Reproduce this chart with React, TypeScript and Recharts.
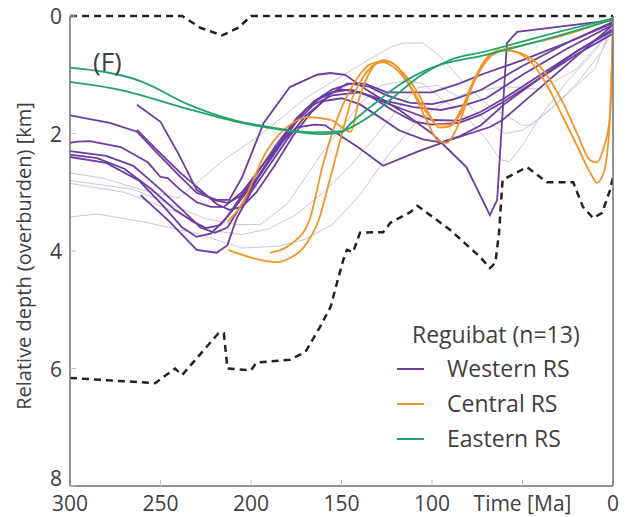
import React from 'react';
import { LineChart, Line, XAxis, YAxis } from 'recharts';

const xTicks = [300, 250, 200, 150, 100, 50, 0];
const topTicks = [250, 200, 150, 100, 50];
const yTicks = [0, 2, 4, 6, 8];
const timeLabel = 'Time [Ma]';
const yLabel = 'Relative depth (overburden) [km]';
const panelLabel = '(F)';
const legendTitle = 'Reguibat (n=13)';
const groups = [
  { name: 'Western RS', color: '#6b3d9f' },
  { name: 'Central RS', color: '#f39428' },
  { name: 'Eastern RS', color: '#22a36b' },
];

// [time Ma, relative depth km]
const upperBound = [[300, 0], [238, 0], [228, 0.2], [216, 0.33], [207, 0.2], [200, 0], [0, 0]];
const lowerBound = [
  [300, 6.16], [253, 6.25], [242, 6.0], [238, 6.11], [218, 5.4], [215, 5.4], [213, 6.0], [200, 6.03],
  [197, 5.9], [178.5, 5.85], [170, 5.72], [162, 5.3], [156, 4.95], [152.5, 4.54], [149, 4.15], [147, 3.98],
  [143.6, 4.02], [139.8, 3.69], [132.6, 3.68], [127, 3.68], [123, 3.52], [112, 3.34], [108, 3.23], [90, 3.64],
  [73.5, 4.1], [68, 4.29], [65, 4.2], [63, 3.7], [61, 2.79], [47.5, 2.57], [36.5, 2.83], [22, 2.83],
  [16.6, 3.25], [11, 3.44], [6, 3.35], [1.6, 2.96], [0, 2.74],
];

const gray1 = [
  [300, 2.67], [282, 2.76], [260, 2.96], [240, 3.1], [236, 3.0], [215, 2.45], [195, 2.03], [169, 1.38],
  [138, 0.8], [123, 0.53], [116, 0.46], [105, 0.46], [95, 0.7], [85, 1.05], [70, 1.5], [50, 1.86],
  [45, 1.86], [35, 1.6], [20, 1.18], [10, 0.9], [0, 0.1],
];
const gray2 = [
  [300, 2.8], [265, 2.95], [245, 3.2], [225, 3.45], [208, 3.55], [195, 3.55], [180, 3.2], [170, 2.75],
  [160, 2.3], [150, 1.9], [140, 1.5], [128, 1.18], [115, 1.1], [105, 1.15], [95, 1.4], [80, 1.75],
  [70, 2.1], [62, 2.45], [57, 2.48], [50, 2.2], [40, 1.7], [25, 1.1], [10, 0.6], [0, 0.15],
];
const gray3 = [
  [300, 2.85], [270, 3.0], [240, 3.35], [222, 3.65], [205, 3.72], [190, 3.62], [175, 3.38], [160, 3.0],
  [145, 2.55], [130, 2.0], [118, 1.55], [108, 1.22], [97, 1.18], [85, 1.38], [70, 1.78], [60, 2.0],
  [50, 1.95], [35, 1.6], [20, 1.15], [5, 0.55], [0, 0.2],
];
const gray4 = [
  [300, 3.42], [285, 3.37], [260, 3.5], [230, 3.7], [205, 3.95], [185, 3.92], [170, 3.8], [155, 3.55],
  [140, 3.05], [125, 2.4], [110, 1.85], [95, 1.5], [80, 1.3], [60, 1.2], [40, 1.25], [20, 0.9], [0, 0.2],
];

const westA = [
  [300, 1.69], [278, 1.82], [263, 1.97], [252, 2.33], [239, 2.74], [230, 3.01], [219, 3.13], [212, 3.13],
  [205, 2.75], [193, 1.82], [178.5, 1.21], [163.5, 1.0], [156, 0.97], [148, 1.0], [136, 1.26], [118, 1.6],
  [100, 2.0], [81, 2.57], [68, 3.39], [64, 3.13], [58.6, 0.46], [53, 0.27], [0, 0.07],
];
const westB = [
  [300, 2.16], [296, 2.14], [289, 2.13], [272, 2.23], [257, 2.49], [250, 2.74], [246, 2.76], [239, 2.96],
  [230, 3.17], [222, 3.25], [215, 3.25], [205, 3.0], [195, 2.6], [185, 2.2], [175, 1.9], [165, 1.85],
  [159, 1.86], [151, 2.03], [141, 2.23], [127, 2.55], [108, 2.31], [90, 2.11], [68, 1.89], [61, 1.77], [0, 0.15],
];
const westC = [
  [300, 2.3], [280, 2.38], [265, 2.55], [250, 2.95], [238, 3.3], [228, 3.6], [220, 3.69], [213, 3.6],
  [205, 3.2], [195, 2.7], [185, 2.2], [175, 1.75], [165, 1.45], [155, 1.3], [145, 1.25], [135, 1.35],
  [122, 1.6], [110, 1.8], [100, 1.85], [85, 1.82], [73, 1.68], [60, 1.45], [40, 1.05], [20, 0.65], [0, 0.3],
];
const westD = [
  [300, 2.36], [285, 2.42], [270, 2.6], [255, 2.95], [242, 3.3], [232, 3.5], [225, 3.61], [217, 3.56],
  [210, 3.3], [200, 2.9], [190, 2.45], [180, 2.0], [170, 1.6], [160, 1.35], [150, 1.25], [140, 1.3],
  [128, 1.45], [115, 1.6], [100, 1.77], [85, 1.78], [73, 1.63], [60, 1.4], [40, 1.0], [20, 0.6], [0, 0.25],
];
const westE = [
  [263, 1.51], [250, 1.8], [240, 2.35], [230, 2.96], [221, 3.13], [213, 3.18], [205, 3.05], [195, 2.7],
  [185, 2.25], [175, 1.8], [165, 1.5], [155, 1.35], [140, 1.3], [125, 1.45], [110, 1.55], [95, 1.6],
  [80, 1.5], [70, 1.4], [50, 1.0], [25, 0.55], [0, 0.15],
];
const westF = [
  [263, 1.94], [252, 2.28], [239, 2.67], [226, 3.01], [219, 3.2], [212, 3.3], [205, 3.25], [197, 3.0],
  [187, 2.55], [177, 2.05], [167, 1.65], [157, 1.35], [147, 1.15], [137, 1.15], [125, 1.3], [112, 1.3],
  [100, 1.3], [85, 1.15], [73, 1.0], [50, 0.75], [25, 0.45], [0, 0.12],
];
const westG = [
  [261, 3.05], [245, 3.5], [230, 3.98], [219, 4.03], [213, 3.9], [208, 3.45], [200, 3.0], [190, 2.55],
  [180, 2.1], [170, 1.7], [160, 1.45], [150, 1.4], [140, 1.5], [130, 1.7], [118, 1.95], [105, 2.1],
  [95, 2.15], [85, 2.05], [73, 1.86], [60, 1.5], [40, 1.05], [20, 0.6], [0, 0.22],
];
const westH = [
  [300, 2.4], [280, 2.5], [262, 2.8], [248, 3.25], [238, 3.6], [230, 3.76], [222, 3.7], [214, 3.45],
  [205, 3.05], [195, 2.6], [185, 2.15], [175, 1.75], [165, 1.45], [155, 1.25], [145, 1.15], [135, 1.2],
  [125, 1.35], [112, 1.48], [100, 1.5], [88, 1.42], [73, 1.26], [50, 0.85], [25, 0.45], [0, 0.1],
];

const centralA = [
  [213, 3.5], [206, 3.25], [191, 2.28], [177, 1.82], [169, 1.72], [156, 1.77], [145, 1.97], [140, 1.38],
  [132.6, 0.87], [127, 0.75], [119, 0.87], [112, 1.21], [103, 1.77], [97, 2.11], [92, 2.16], [86, 1.89],
  [77, 1.14], [68, 0.7], [61, 0.58], [51, 0.63], [40, 0.87], [27.6, 1.48], [20, 1.99], [12.7, 2.45],
  [9, 2.49], [5.5, 2.28], [1.7, 1.72], [0, 0.02],
];
const centralB = [
  [212.7, 3.98], [195, 4.15], [185.6, 4.19], [178.5, 4.12], [169, 3.86], [162, 3.42], [156.5, 2.79],
  [151, 2.15], [145, 1.48], [138, 1.04], [130, 0.8], [124, 0.78], [116, 0.97], [108, 1.3], [101, 1.7],
  [96, 1.9], [90, 1.88], [85, 1.7], [77, 1.1], [70, 0.72], [62, 0.58], [55, 0.6], [45, 0.8], [37, 1.15],
  [28, 1.7], [20, 2.2], [12, 2.7], [9, 2.84], [5, 2.65], [2, 1.9], [0, 0.15],
];
const centralC = [
  [189.5, 4.03], [177, 3.86], [168, 3.5], [160, 2.5], [153, 1.8], [146, 1.3], [140, 1.0], [134, 0.82],
  [128, 0.78], [120, 0.9], [112, 1.2], [104, 1.6], [97, 1.85], [90, 1.85], [84, 1.6], [77, 1.1],
  [70, 0.75], [63, 0.6], [50, 0.5], [30, 0.35], [0, 0.05],
];

const eastA = [
  [300, 0.88], [260, 1.12], [235, 1.5], [210, 1.77], [188, 1.9], [165, 1.98], [150, 1.96], [145, 1.9],
  [135, 1.72], [120, 1.35], [108, 1.05], [90, 0.75], [70, 0.6], [40, 0.35], [0, 0.04],
];
const eastB = [
  [300, 1.12], [272, 1.26], [235, 1.58], [205, 1.82], [178, 1.96], [160, 2.01], [150, 1.98], [145, 1.83],
  [130, 1.45], [117, 1.15], [100, 0.88], [70, 0.66], [40, 0.42], [0, 0.06],
];

const grays = [gray1, gray2, gray3, gray4];
const western = [westA, westB, westC, westD, westE, westF, westG, westH];
const central = [centralA, centralB, centralC];
const eastern = [eastA, eastB];

const toPts = (arr: number[][]) => arr.map(([t, d]) => ({ t, d }));

const FONT = '"Open Sans", "Noto Sans", sans-serif';
const TEXT = '#404040';
const AXIS = '#6e6e6e';
const TICK = '#c4c4c4';

const YTick = (props: any) => {
  const { x, y, payload } = props;
  const shift = payload.value === 8 ? -8 : 0;
  return (
    <text x={x} y={y + shift} textAnchor="end" dominantBaseline="central" fontSize={21} fill={TEXT}
      fontFamily={FONT}>
      {payload.value}
    </text>
  );
};

export default function App() {
  return (
    <div style={{ position: 'relative', width: 635, height: 517, margin: '-8px 0 0 -8px', fontFamily: FONT }}>
      <LineChart width={635} height={517} margin={{ top: 14, right: 20, bottom: 0, left: 0 }}>
        <XAxis
          dataKey="t"
          type="number"
          domain={[0, 300]}
          reversed
          ticks={xTicks}
          allowDataOverflow
          height={31}
          tickSize={-6}
          tickMargin={16}
          stroke={AXIS}
          strokeWidth={1.5}
          tickLine={{ stroke: TICK, strokeWidth: 1 }}
          tick={{ fontSize: 21, fill: TEXT, fontFamily: FONT }}
          tickFormatter={(v: number) => (v === 50 ? timeLabel : String(v))}
          interval={0}
        />
        <XAxis
          xAxisId="top"
          orientation="top"
          dataKey="t"
          type="number"
          domain={[0, 300]}
          reversed
          ticks={topTicks}
          height={2}
          tickSize={-6}
          tick={false}
          axisLine={false}
          tickLine={{ stroke: TICK, strokeWidth: 1 }}
        />
        <YAxis
          type="number"
          domain={[0, 8]}
          reversed
          ticks={yTicks}
          width={70}
          tickSize={-6}
          tickMargin={14}
          stroke={AXIS}
          strokeWidth={1.5}
          tickLine={{ stroke: TICK, strokeWidth: 1 }}
          tick={<YTick />}
          interval={0}
          label={{
            value: yLabel,
            angle: -90,
            position: 'center',
            dx: -11,
            dy: 5,
            style: { fontSize: 20, fill: TEXT, fontFamily: FONT },
          }}
        />
        <YAxis
          yAxisId="r"
          orientation="right"
          type="number"
          domain={[0, 8]}
          reversed
          ticks={yTicks}
          width={2}
          tickSize={-6}
          tick={false}
          stroke={AXIS}
          strokeWidth={1.5}
          tickLine={{ stroke: TICK, strokeWidth: 1 }}
        />
        {grays.map((s, i) => (
          <Line key={'g' + i} data={toPts(s)} dataKey="d" type="linear" stroke="#c9c5da" strokeWidth={1}
            dot={false} isAnimationActive={false} />
        ))}
        {western.map((s, i) => (
          <Line key={'w' + i} data={toPts(s)} dataKey="d" type="linear" stroke={groups[0].color} strokeWidth={1.8}
            dot={false} isAnimationActive={false} />
        ))}
        {central.map((s, i) => (
          <Line key={'c' + i} data={toPts(s)} dataKey="d" type="monotone" stroke={groups[1].color} strokeWidth={1.8}
            dot={false} isAnimationActive={false} />
        ))}
        {eastern.map((s, i) => (
          <Line key={'e' + i} data={toPts(s)} dataKey="d" type="monotone" stroke={groups[2].color} strokeWidth={1.8}
            dot={false} isAnimationActive={false} />
        ))}
        <Line data={toPts(upperBound)} dataKey="d" type="linear" stroke="#222" strokeWidth={2.5}
          strokeDasharray="7 5" dot={false} isAnimationActive={false} />
        <Line data={toPts(lowerBound)} dataKey="d" type="linear" stroke="#222" strokeWidth={2.5}
          strokeDasharray="7 5" dot={false} isAnimationActive={false} />
      </LineChart>
      <div style={{ position: 'absolute', left: 93, top: 46, fontSize: 26, color: TEXT, lineHeight: '30px' }}>
        {panelLabel}
      </div>
      <div style={{ position: 'absolute', left: 397, top: 318, fontSize: 23, color: TEXT, whiteSpace: 'nowrap' }}>
        <div style={{ height: 33, lineHeight: '33px', paddingLeft: 15 }}>{legendTitle}</div>
        {groups.map((g) => (
          <div key={g.name} style={{ height: 35, lineHeight: '35px', display: 'flex', alignItems: 'center' }}>
            <span style={{ display: 'inline-block', width: 27, height: 2, background: g.color, marginRight: 23 }} />
            <span>{g.name}</span>
          </div>
        ))}
      </div>
    </div>
  );
}
